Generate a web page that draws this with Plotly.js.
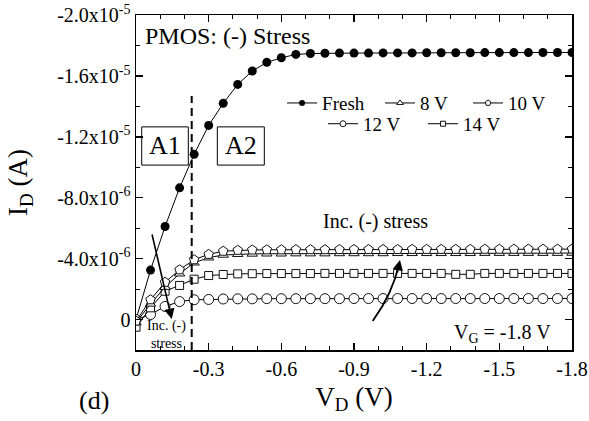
<!DOCTYPE html>
<html>
<head>
<meta charset="utf-8">
<script src="https://cdn.plot.ly/plotly-3.0.1.min.js"></script>
<style>html,body{margin:0;padding:0;background:#fff;}#chart{width:589px;height:421px;}</style>
</head>
<body>
<div id="chart"></div>
<script>
// Drain voltage V_D (V)
var vd = [0, -0.06, -0.12, -0.18, -0.24, -0.30, -0.36, -0.42, -0.48, -0.54, -0.60,
          -0.66, -0.72, -0.78, -0.84, -0.90, -0.96, -1.02, -1.08, -1.14, -1.20,
          -1.26, -1.32, -1.38, -1.44, -1.50, -1.56, -1.62, -1.68, -1.74, -1.80];
// Drain current I_D in units of 1e-6 A
var fresh = [0, -3.25, -6.11, -8.65, -10.85, -12.75, -14.2, -15.44, -16.32, -16.89, -17.19,
             -17.41, -17.47, -17.49, -17.5, -17.5, -17.5, -17.51, -17.51, -17.51, -17.52,
             -17.52, -17.52, -17.52, -17.53, -17.53, -17.53, -17.53, -17.54, -17.54, -17.54];
var s8 = [0.2, -1.03, -2.13, -3.01, -3.73, -4.06, -4.24, -4.29, -4.31, -4.32, -4.32,
          -4.33, -4.33, -4.33, -4.34, -4.34, -4.34, -4.34, -4.35, -4.35, -4.35,
          -4.35, -4.35, -4.35, -4.36, -4.36, -4.36, -4.36, -4.36, -4.36, -4.37];
var s10 = [0.1, -1.3, -2.45, -3.27, -3.93, -4.28, -4.49, -4.55, -4.57, -4.58, -4.58,
           -4.59, -4.59, -4.59, -4.6, -4.6, -4.6, -4.6, -4.6, -4.61, -4.61,
           -4.61, -4.61, -4.61, -4.62, -4.62, -4.62, -4.62, -4.62, -4.62, -4.63];
var s12 = [0.0, -0.33, -0.86, -1.18, -1.3, -1.32, -1.35, -1.36, -1.36, -1.37, -1.37,
           -1.37, -1.37, -1.37, -1.37, -1.38, -1.38, -1.38, -1.38, -1.38, -1.38,
           -1.38, -1.38, -1.38, -1.38, -1.38, -1.38, -1.38, -1.38, -1.38, -1.38];
var s14 = [0.5, -0.77, -1.86, -2.24, -2.65, -2.89, -2.96, -3.0, -3.01, -3.02, -3.02,
           -3.02, -3.02, -3.03, -3.03, -3.03, -3.03, -3.03, -3.03, -3.03, -3.03,
           -3.03, -2.97, -2.97, -3.03, -3.03, -3.03, -3.03, -3.03, -3.03, -3.03];

var xTickVals = [0, -0.3, -0.6, -0.9, -1.2, -1.5, -1.8];
var xTickText = ['0', '-0.3', '-0.6', '-0.9', '-1.2', '-1.5', '-1.8'];
var yTickVals = [0, -4e-6, -8e-6, -1.2e-5, -1.6e-5, -2e-5];
var yTickText = ['0', '-4.0x10<sup>-6</sup>', '-8.0x10<sup>-6</sup>', '-1.2x10<sup>-5</sup>',
                 '-1.6x10<sup>-5</sup>', '-2.0x10<sup>-5</sup>'];

var FONT = '"Liberation Serif", "Times New Roman", serif';
function amps(arr) { return arr.map(function (v) { return v * 1e-6; }); }

var openLine = {color: '#111', width: 1};
var seriesDefs = [
  {name: 'Fresh', y: fresh, sym: 'circle', size: 9, fill: '#000', legend: 'legend', lw: 53, ls: 6},
  {name: '12 V', y: s12, sym: 'circle', size: 10, fill: '#fff', legend: 'legend2', lw: 55, ls: 6},
  {name: '14 V', y: s14, sym: 'square', size: 8, fill: '#fff', legend: 'legend2', lw: 40, ls: 5},
  {name: '8 V', y: s8, sym: 'triangle-up', size: 9, fill: '#fff', legend: 'legend', lw: 43, ls: 6},
  {name: '10 V', y: s10, sym: 'pentagon', size: 10, fill: '#fff', legend: 'legend', lw: 40, ls: 6}
];

var traces = [];
seriesDefs.forEach(function (s) {
  traces.push({
    x: vd, y: amps(s.y), type: 'scatter', mode: 'lines+markers', name: s.name,
    showlegend: false,
    line: {color: '#000', width: 1},
    marker: {symbol: s.sym, size: s.size, color: s.fill,
             line: s.fill === '#000' ? {color: '#000', width: 0} : openLine}
  });
});
// legend entries (smaller symbols, as in the reference legend)
var legendOrder = ['Fresh', '8 V', '10 V', '12 V', '14 V'];
legendOrder.forEach(function (nm) {
  var s = seriesDefs.filter(function (d) { return d.name === nm; })[0];
  traces.push({
    x: [null], y: [null], type: 'scatter', mode: 'lines+markers', name: s.name,
    legend: s.legend, legendwidth: s.lw,
    line: {color: '#000', width: 1},
    marker: {symbol: s.sym, size: s.ls, color: s.fill,
             line: s.fill === '#000' ? {color: '#000', width: 0} : openLine}
  });
});

var axisCommon = {
  showline: true, linecolor: '#000', linewidth: 1.5, mirror: 'ticks',
  ticks: 'inside', ticklen: 7, tickwidth: 1.5, tickcolor: '#000',
  showgrid: false, zeroline: false, tickmode: 'array',
  tickfont: {family: FONT, size: 20, color: '#000'}
};

var layout = {
  width: 589, height: 421,
  margin: {l: 136, r: 17, t: 15, b: 71},
  paper_bgcolor: '#fff', plot_bgcolor: '#fff',
  font: {family: FONT, color: '#000'},
  xaxis: Object.assign({}, axisCommon, {
    range: [0, -1.8], tickvals: xTickVals, ticktext: xTickText,
    minor: {tickmode: 'linear', tick0: 0, dtick: 0.1, ticks: 'inside', ticklen: 4, tickwidth: 1, tickcolor: '#000'},
    title: {text: 'V<sub>D</sub> (V)', font: {family: FONT, size: 27, color: '#000'}, standoff: 8}
  }),
  yaxis: Object.assign({}, axisCommon, {
    range: [2e-6, -2e-5], tickvals: yTickVals, ticktext: yTickText,
    minor: {tickmode: 'linear', tick0: 0, dtick: 2e-6, ticks: 'inside', ticklen: 4, tickwidth: 1, tickcolor: '#000'},
    title: {text: 'I<sub>D</sub> (A)', font: {family: FONT, size: 27, color: '#000'}, standoff: 21}
  }),
  legend: {
    orientation: 'h', x: 0.335, xanchor: 'left', y: 0.737, yanchor: 'middle',
    bgcolor: 'rgba(0,0,0,0)', borderwidth: 0,
    font: {family: FONT, size: 19, color: '#000'}, traceorder: 'normal'
  },
  legend2: {
    orientation: 'h', x: 0.429, xanchor: 'left', y: 0.675, yanchor: 'middle',
    bgcolor: 'rgba(0,0,0,0)', borderwidth: 0,
    font: {family: FONT, size: 19, color: '#000'}, traceorder: 'normal'
  },
  shapes: [
    {type: 'line', xref: 'x', yref: 'paper', x0: -0.23, x1: -0.23, y0: 0, y1: 0.758,
     line: {color: '#000', width: 2, dash: '8px,5px'}},
    {type: 'rect', xref: 'paper', yref: 'paper', x0: 0.0131, x1: 0.12, y0: 0.552, y1: 0.666,
     line: {color: '#000', width: 1}},
    {type: 'rect', xref: 'paper', yref: 'paper', x0: 0.1865, x1: 0.2943, y0: 0.552, y1: 0.666,
     line: {color: '#000', width: 1}},
    {type: 'path', xref: 'paper', yref: 'paper',
     path: 'M 0.5429 0.0866 Q 0.5894 0.1701 0.6039 0.2597',
     line: {color: '#000', width: 1.8}}
  ],
  annotations: [
    {xref: 'paper', yref: 'paper', x: 0.016, y: 0.937, xanchor: 'left', yanchor: 'middle',
     text: 'PMOS: (-) Stress', showarrow: false, font: {family: FONT, size: 24, color: '#000'}},
    {xref: 'paper', yref: 'paper', x: 0.0665, y: 0.609, xanchor: 'center', yanchor: 'middle',
     text: 'A1', showarrow: false, font: {family: FONT, size: 26, color: '#000'}},
    {xref: 'paper', yref: 'paper', x: 0.2404, y: 0.609, xanchor: 'center', yanchor: 'middle',
     text: 'A2', showarrow: false, font: {family: FONT, size: 26, color: '#000'}},
    {xref: 'paper', yref: 'paper', x: 0.424, y: 0.385, xanchor: 'left', yanchor: 'middle',
     text: 'Inc. (-) stress', showarrow: false, font: {family: FONT, size: 20, color: '#000'}},
    {xref: 'paper', yref: 'paper', x: 0.071, y: 0.045, xanchor: 'center', yanchor: 'middle',
     text: 'Inc. (-)<br>stress', showarrow: false, font: {family: FONT, size: 14, color: '#000'}},
    {xref: 'paper', yref: 'paper', x: 0.956, y: 0.0507, xanchor: 'right', yanchor: 'middle',
     text: 'V<sub>G</sub> = -1.8 V', showarrow: false, font: {family: FONT, size: 20, color: '#000'}},
    {xref: 'paper', yref: 'paper', x: -0.0963, y: -0.152, xanchor: 'center', yanchor: 'middle',
     text: '(d)', showarrow: false, font: {family: FONT, size: 26, color: '#000'}},
    {xref: 'paper', yref: 'paper', x: 0.0819, y: 0.0925, text: '', showarrow: true,
     ax: -20, ay: -86, arrowhead: 2, arrowsize: 1.3, arrowwidth: 1.6, arrowcolor: '#000', standoff: 0},
    {xref: 'paper', yref: 'paper', x: 0.6055, y: 0.2687, text: '', showarrow: true,
     ax: -3, ay: 14, arrowhead: 2, arrowsize: 1.3, arrowwidth: 1.6, arrowcolor: '#000', standoff: 0}
  ]
};

Plotly.newPlot('chart', traces, layout, {displayModeBar: false, staticPlot: true});
</script>
</body>
</html>
